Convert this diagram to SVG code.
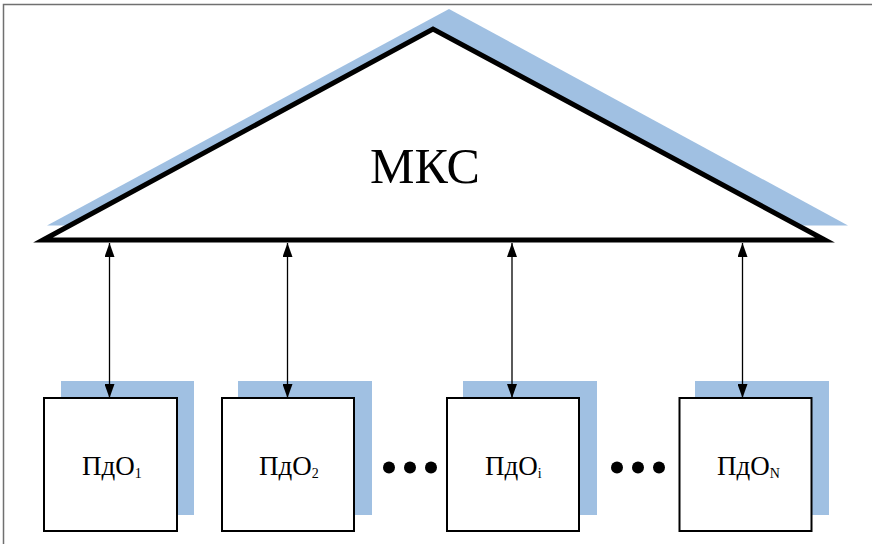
<svg xmlns="http://www.w3.org/2000/svg" width="872" height="544" viewBox="0 0 872 544">
  <style>
    .frame { fill: none; stroke: #707070; stroke-width: 1.5; }
    .shadow { fill: #a0c0e2; stroke: none; }
    .roof { fill: #ffffff; stroke: #000000; stroke-width: 5; stroke-linejoin: miter; stroke-miterlimit: 12; }
    .box { fill: #ffffff; stroke: #000000; stroke-width: 2; }
    .link { stroke: #000000; stroke-width: 1.3; fill: none; marker-start: url(#head); marker-end: url(#head); }
    .title { font-family: "Liberation Serif", "Times New Roman", serif; font-size: 50px; fill: #000000; }
    .label { font-family: "Liberation Serif", "Times New Roman", serif; font-size: 27px; fill: #000000; }
    .sub { font-size: 14px; }
    .dot { fill: #000000; }
  </style>
  <defs>
    <marker id="head" viewBox="0 0 14 10" refX="14" refY="5" markerWidth="14" markerHeight="10" markerUnits="userSpaceOnUse" orient="auto-start-reverse">
      <path d="M0,0 L14,5 L0,10 Z" fill="#000000"/>
    </marker>
  </defs>

  <rect class="frame" x="3.5" y="4.5" width="872" height="545"/>

  <!-- central node: МКС -->
  <g id="mks">
    <polygon class="shadow" points="47,225.5 449,9 848,225.5"/>
    <polygon class="roof" points="43,240 433,29 825,240"/>
    <text class="title" x="425" y="183" text-anchor="middle">МКС</text>
  </g>

  <!-- peripheral nodes -->
  <g id="pdo1">
    <rect class="shadow" x="61" y="381" width="133" height="134"/>
    <rect class="box" x="44" y="398" width="133" height="133"/>
    <text class="label" x="82" y="475">ПдО<tspan class="sub" dy="3">1</tspan></text>
  </g>
  <g id="pdo2">
    <rect class="shadow" x="238" y="381" width="134" height="134"/>
    <rect class="box" x="222" y="398" width="132" height="133"/>
    <text class="label" x="259" y="475">ПдО<tspan class="sub" dy="3">2</tspan></text>
  </g>
  <g id="pdoi">
    <rect class="shadow" x="463" y="381" width="134" height="134"/>
    <rect class="box" x="447" y="398" width="132" height="133"/>
    <text class="label" x="485" y="475">ПдО<tspan class="sub" dy="3">i</tspan></text>
  </g>
  <g id="pdoN">
    <rect class="shadow" x="695" y="381" width="134" height="134"/>
    <rect class="box" x="679.5" y="398" width="132" height="133"/>
    <text class="label" x="717" y="475">ПдО<tspan class="sub" dy="3">N</tspan></text>
  </g>

  <!-- ellipses between nodes -->
  <g id="gap1">
    <circle class="dot" cx="389" cy="467.5" r="6"/>
    <circle class="dot" cx="410" cy="467.5" r="6"/>
    <circle class="dot" cx="431" cy="467.5" r="6"/>
  </g>
  <g id="gap2">
    <circle class="dot" cx="617" cy="467.5" r="6"/>
    <circle class="dot" cx="638" cy="467.5" r="6"/>
    <circle class="dot" cx="659" cy="467.5" r="6"/>
  </g>

  <!-- two-way links -->
  <g id="links">
    <line class="link" x1="109.5" y1="243" x2="109.5" y2="398"/>
    <line class="link" x1="287.5" y1="243" x2="287.5" y2="398"/>
    <line class="link" x1="512" y1="243" x2="512" y2="398"/>
    <line class="link" x1="742.5" y1="243" x2="742.5" y2="398"/>
  </g>
</svg>
